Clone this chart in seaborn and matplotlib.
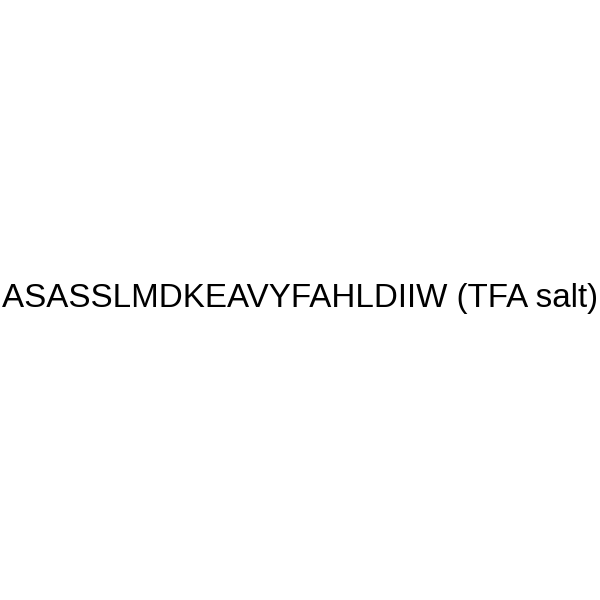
import matplotlib
matplotlib.use("Agg")
import matplotlib.pyplot as plt
import seaborn as sns

title_text = "ASASSLMDKEAVYFAHLDIIW (TFA salt)"

sns.set_theme(style="white")
plt.rcParams['font.family'] = ['Liberation Sans', 'DejaVu Sans']

fig = plt.figure(figsize=(6, 6), dpi=100)
fig.patch.set_facecolor("white")
ax = fig.add_axes([0, 0, 1, 1])
ax.set_axis_off()
ax.set_xlim(0, 1)
ax.set_ylim(0, 1)
ax.text(0.5, 0.503, title_text, ha="center", va="center", fontsize=23.9, color="black")
fig.savefig("out.png", dpi=100, facecolor="white")
